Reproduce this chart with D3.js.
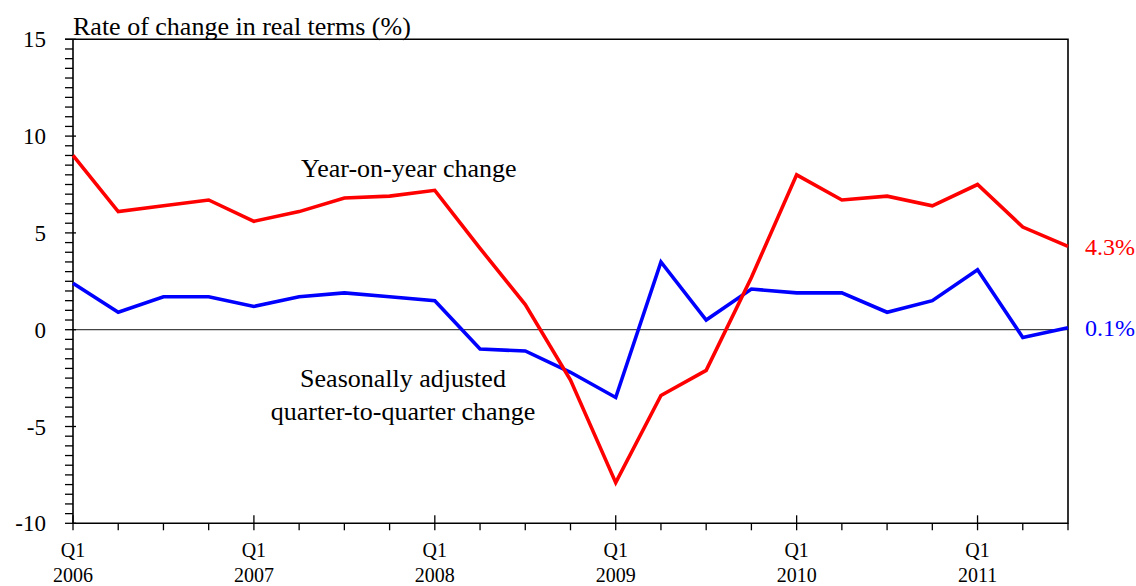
<!DOCTYPE html>
<html><head><meta charset="utf-8">
<script src="https://cdn.jsdelivr.net/npm/d3@7/dist/d3.min.js"></script>
<style>
html,body{margin:0;padding:0;background:#fff;}
svg{display:block;}
text{font-family:"Liberation Serif","Times New Roman",serif;fill:#000;}
</style></head>
<body>
<svg id="chart" width="1136" height="586"></svg>
<script>
const quarters = ["2006Q1","2006Q2","2006Q3","2006Q4","2007Q1","2007Q2","2007Q3","2007Q4",
  "2008Q1","2008Q2","2008Q3","2008Q4","2009Q1","2009Q2","2009Q3","2009Q4",
  "2010Q1","2010Q2","2010Q3","2010Q4","2011Q1","2011Q2","2011Q3"];
const yoyChange = [9.0,6.1,6.4,6.7,5.6,6.1,6.8,6.9,7.2,4.2,1.3,-2.6,-7.9,-3.4,-2.1,2.7,8.0,6.7,6.9,6.4,7.5,5.3,4.3];
const qoqChange = [2.4,0.9,1.7,1.7,1.2,1.7,1.9,1.7,1.5,-1.0,-1.1,-2.2,-3.5,3.5,0.5,2.1,1.9,1.9,0.9,1.5,3.1,-0.4,0.1];
const yTickValues = [-10,-5,0,5,10,15];
const yearLabels = ["2006","2007","2008","2009","2010","2011"];
const yearTickQuarters = ["2006Q1","2007Q1","2008Q1","2009Q1","2010Q1","2011Q1"];
const titleText = "Rate of change in real terms (%)";
const yoyLabel = "Year-on-year change";
const qoqLabel = ["Seasonally adjusted","quarter-to-quarter change"];
const endLabels = ["4.3%","0.1%"];

const svg = d3.select("#chart");
const L = 73, R = 1068, T = 39.3, B = 523.3;
const x = d3.scalePoint().domain(quarters).range([L, R]);
const y = d3.scaleLinear().domain([-10, 15]).range([B, T]);

// zero line
svg.append("line").attr("x1", L).attr("x2", R).attr("y1", y(0)).attr("y2", y(0))
  .attr("stroke", "#444").attr("stroke-width", 1.2);

// y minor ticks
const minorY = d3.range(-10, 15.01, 0.5);
svg.append("g").selectAll("line").data(minorY).join("line")
  .attr("x1", d => L - 8).attr("x2", d => (d % 5 === 0) ? L + 3 : L)
  .attr("y1", d => y(d)).attr("y2", d => y(d))
  .attr("stroke", "#000").attr("stroke-width", 1.3);

// y labels
svg.append("g").selectAll("text").data(yTickValues).join("text")
  .attr("x", 46).attr("y", d => y(d)).attr("dy", "0.35em")
  .attr("text-anchor", "end").attr("font-size", 23).text(d => d);

// x ticks
svg.append("g").selectAll("line").data(quarters).join("line")
  .attr("x1", d => x(d)).attr("x2", d => x(d))
  .attr("y1", d => yearTickQuarters.includes(d) ? B - 8 : B)
  .attr("y2", B + 7)
  .attr("stroke", "#000").attr("stroke-width", 1.3);

// x labels
const xl = svg.append("g").selectAll("g").data(yearTickQuarters).join("g");
xl.append("text").attr("x", d => x(d)).attr("y", 557).attr("text-anchor", "middle")
  .attr("font-size", 20).text("Q1");
xl.append("text").attr("x", d => x(d)).attr("y", 582).attr("text-anchor", "middle")
  .attr("font-size", 20).text((d, i) => yearLabels[i]);

// frame
svg.append("path")
  .attr("d", `M${L - 8},${T}H${R}V${B}H${L}V${T}`)
  .attr("fill", "none").attr("stroke", "#000").attr("stroke-width", 1.6);

// lines
const line = d3.line().x((d, i) => x(quarters[i])).y(d => y(d));
svg.append("path").datum(qoqChange).attr("d", line)
  .attr("fill", "none").attr("stroke", "#0000ff").attr("stroke-width", 3.6)
  .attr("stroke-linejoin", "miter");
svg.append("path").datum(yoyChange).attr("d", line)
  .attr("fill", "none").attr("stroke", "#ff0000").attr("stroke-width", 3.6)
  .attr("stroke-linejoin", "miter");

// title
svg.append("text").attr("x", L).attr("y", 35).attr("font-size", 26).text(titleText);

// annotations
svg.append("text").attr("x", 301).attr("y", 177).attr("font-size", 26).text(yoyLabel);
svg.append("text").attr("x", 403).attr("y", 387).attr("text-anchor", "middle")
  .attr("font-size", 26).text(qoqLabel[0]);
svg.append("text").attr("x", 403).attr("y", 420).attr("text-anchor", "middle")
  .attr("font-size", 26).text(qoqLabel[1]);

// end labels
const last = quarters.length - 1;
svg.append("text").attr("x", 1085).attr("y", y(yoyChange[last])).attr("dy", "0.35em")
  .attr("font-size", 24).style("fill", "#ff0000").text(endLabels[0]);
svg.append("text").attr("x", 1085).attr("y", y(qoqChange[last])).attr("dy", "0.35em")
  .attr("font-size", 24).style("fill", "#0000ff").text(endLabels[1]);
</script>
</body></html>
